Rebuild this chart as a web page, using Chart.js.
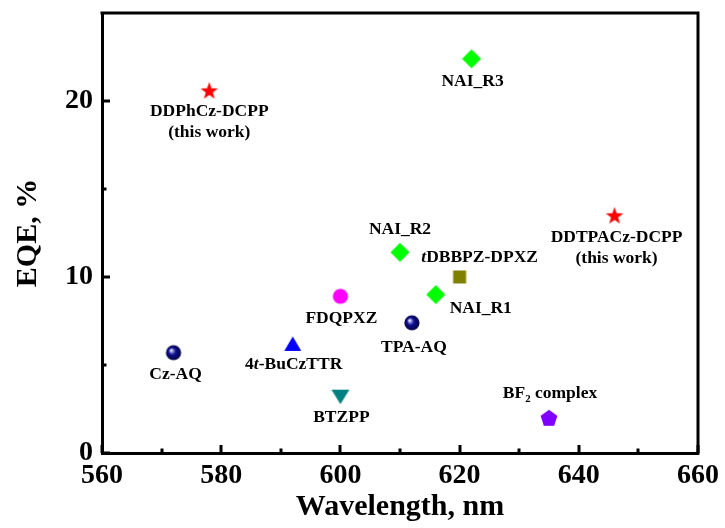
<!DOCTYPE html>
<html><head><meta charset="utf-8">
<script src="https://cdn.jsdelivr.net/npm/chart.js@4.4.1/dist/chart.umd.min.js"></script>
<style>html,body{margin:0;padding:0;background:#fff;}canvas{display:block}</style>
</head><body>
<canvas id="c" width="725" height="528"></canvas>
<script>
// ---- data ----
const compounds = ["DDPhCz-DCPP\n(this work)", "NAI_R3", "Cz-AQ", "FDQPXZ", "4*t*-BuCzTTR", "BTZPP", "NAI_R2", "*t*DBBPZ-DPXZ", "NAI_R1", "TPA-AQ", "DDTPACz-DCPP\n(this work)", "BF~2~ complex"];
const wavelengths = [578, 622, 572, 600, 592, 600, 610, 620, 616, 612, 646, 635];
const eqeValues = [20.6, 22.4, 5.7, 8.9, 6.2, 3.2, 11.4, 10.0, 9.0, 7.4, 13.5, 2.0];
const xTickValues = [560, 580, 600, 620, 640, 660];
const xMinorTicks = [570, 590, 610, 630, 650];
const yTickValues = [0, 10, 20];
const yMinorTicks = [5, 15];

// ---- styles ----
const FONT = "'Liberation Serif', 'Times New Roman', serif";
const markerKinds = ['star', 'diamond', 'sphere', 'circle', 'triangle', 'downTriangle', 'diamond', 'square', 'diamond', 'sphere', 'star', 'pentagon'];
const markerColors = ['#ff0000', '#00ff00', '#000080', '#ff00ff', '#0000ff', '#008080', '#00ff00', '#808000', '#00ff00', '#000080', '#ff0000', '#8000ff'];
const labelOffsets = [[0, 21], [1, 23], [2, 22], [1, 22], [1, 21], [1, 21], [0, -23], [20, -20], [45, 14], [2, 25], [2, 22], [1, -24]];
const LABEL_SIZE = 17.5, LINE_GAP = 21;

function makeMarker(kind, color) {
  const size = 22;
  const c = document.createElement('canvas');
  c.width = c.height = size;
  const g = c.getContext('2d');
  const m = size / 2;
  g.fillStyle = color;
  g.beginPath();
  if (kind === 'star') {
    const R = 9.2, r = R * 0.40;
    const cy = m + 0.8;
    for (let k = 0; k < 10; k++) {
      const a = -Math.PI / 2 + k * Math.PI / 5;
      const rr = k % 2 ? r : R;
      g.lineTo(m + rr * Math.cos(a), cy + rr * Math.sin(a));
    }
  } else if (kind === 'diamond') {
    const h = 9.5;
    g.moveTo(m, m - h); g.lineTo(m + h, m); g.lineTo(m, m + h); g.lineTo(m - h, m);
  } else if (kind === 'sphere') {
    const grad = g.createRadialGradient(m - 2.5, m - 2.5, 0.3, m, m, 7.6);
    grad.addColorStop(0, '#ffffff');
    grad.addColorStop(0.18, '#9090e0');
    grad.addColorStop(0.45, '#101090');
    grad.addColorStop(1, '#000040');
    g.fillStyle = grad;
    g.arc(m, m, 7.6, 0, Math.PI * 2);
  } else if (kind === 'circle') {
    g.arc(m, m, 7.6, 0, Math.PI * 2);
  } else if (kind === 'triangle') {
    g.moveTo(m, m - 7.5); g.lineTo(m + 8.5, m + 7); g.lineTo(m - 8.5, m + 7);
  } else if (kind === 'downTriangle') {
    g.moveTo(m - 9, m - 7); g.lineTo(m + 9, m - 7); g.lineTo(m, m + 7.5);
  } else if (kind === 'square') {
    g.rect(m - 6.5, m - 6.5, 13, 13);
  } else if (kind === 'pentagon') {
    const R = 8.8, cy = m + 0.8;
    for (let k = 0; k < 5; k++) {
      const a = -Math.PI / 2 + k * 2 * Math.PI / 5;
      g.lineTo(m + R * Math.cos(a), cy + R * Math.sin(a));
    }
  }
  g.closePath();
  g.fill();
  return c;
}

function drawRich(ctx, text, cx, cy, size) {
  const parts = text.split(/(\*[^*]+\*|~[^~]+~)/).filter(s => s.length);
  const segs = parts.map(p => {
    if (p[0] === '*') return { t: p.slice(1, -1), font: `italic bold ${size}px ${FONT}`, dy: 0 };
    if (p[0] === '~') return { t: p.slice(1, -1), font: `bold ${size * 0.62}px ${FONT}`, dy: size * 0.3 };
    return { t: p, font: `bold ${size}px ${FONT}`, dy: 0 };
  });
  let total = 0;
  segs.forEach(s => { ctx.font = s.font; s.w = ctx.measureText(s.t).width; total += s.w; });
  let x = cx - total / 2;
  segs.forEach(s => { ctx.font = s.font; ctx.fillText(s.t, x, cy + s.dy); x += s.w; });
}

const labelPlugin = {
  id: 'pointLabels',
  afterDatasetsDraw(chart) {
    const ctx = chart.ctx;
    const meta = chart.getDatasetMeta(0);
    ctx.save();
    ctx.fillStyle = '#000';
    ctx.textBaseline = 'middle';
    ctx.textAlign = 'left';
    meta.data.forEach((pt, i) => {
      const [dx, dy] = labelOffsets[i];
      compounds[i].split('\n').forEach((line, j) => {
        drawRich(ctx, line, pt.x + dx, pt.y + dy + j * LINE_GAP, LABEL_SIZE);
      });
    });
    ctx.restore();
  }
};

const framePlugin = {
  id: 'frame',
  afterDraw(chart) {
    const ctx = chart.ctx, a = chart.chartArea;
    const xs = chart.scales.x, ys = chart.scales.y;
    ctx.save();
    ctx.strokeStyle = '#000';
    ctx.lineWidth = 3;
    ctx.beginPath();
    ctx.moveTo(a.left - 1.5, a.top); ctx.lineTo(a.right, a.top); ctx.lineTo(a.right, a.bottom + 1.5);
    ctx.stroke();
    ctx.lineWidth = 3;
    ctx.beginPath();
    xTickValues.forEach(v => { const p = Math.round(xs.getPixelForValue(v)); ctx.moveTo(p, a.bottom); ctx.lineTo(p, a.bottom - 8); });
    xMinorTicks.forEach(v => { const p = Math.round(xs.getPixelForValue(v)); ctx.moveTo(p, a.bottom); ctx.lineTo(p, a.bottom - 4.5); });
    yTickValues.forEach(v => { const p = Math.round(ys.getPixelForValue(v)); ctx.moveTo(a.left, p); ctx.lineTo(a.left + 8, p); });
    yMinorTicks.forEach(v => { const p = Math.round(ys.getPixelForValue(v)); ctx.moveTo(a.left, p); ctx.lineTo(a.left + 4.5, p); });
    ctx.stroke();
    ctx.restore();
  }
};

new Chart(document.getElementById('c'), {
  type: 'scatter',
  data: {
    datasets: [{
      data: wavelengths.map((w, i) => ({ x: w, y: eqeValues[i] })),
      pointStyle: markerKinds.map((k, i) => makeMarker(k, markerColors[i])),
      pointRadius: 9,
      backgroundColor: markerColors
    }]
  },
  options: {
    responsive: false,
    animation: false,
    devicePixelRatio: 1,
    layout: { padding: { top: 13, right: 27, left: 0, bottom: 0 } },
    plugins: { legend: { display: false }, tooltip: { enabled: false } },
    scales: {
      x: {
        type: 'linear', min: 560, max: 660,
        afterBuildTicks: s => { s.ticks = xTickValues.map(v => ({ value: v })); },
        afterFit: s => { s.height = 75; },
        grid: { display: false, drawTicks: false },
        border: { display: true, width: 3, color: '#000' },
        ticks: { padding: 6, color: '#000', maxRotation: 0, autoSkip: false, font: { family: FONT, size: 28, weight: 'bold' } },
        title: { display: true, text: 'Wavelength, nm', color: '#000', font: { family: FONT, size: 30, weight: 'bold' }, padding: { top: 0, bottom: 3 } }
      },
      y: {
        type: 'linear', min: 0, max: 25,
        afterBuildTicks: s => { s.ticks = yTickValues.map(v => ({ value: v })); },
        afterFit: s => { s.width = 102; s.paddingTop = 0; s.paddingBottom = 0; },
        grid: { display: false, drawTicks: false },
        border: { display: true, width: 3, color: '#000' },
        ticks: { padding: 9, color: '#000', autoSkip: false, font: { family: FONT, size: 28, weight: 'bold' } },
        title: { display: true, text: 'EQE, %', color: '#000', font: { family: FONT, size: 30, weight: 'bold' }, padding: { top: 10, bottom: 0 } }
      }
    }
  },
  plugins: [labelPlugin, framePlugin]
});
</script>
</body></html>
